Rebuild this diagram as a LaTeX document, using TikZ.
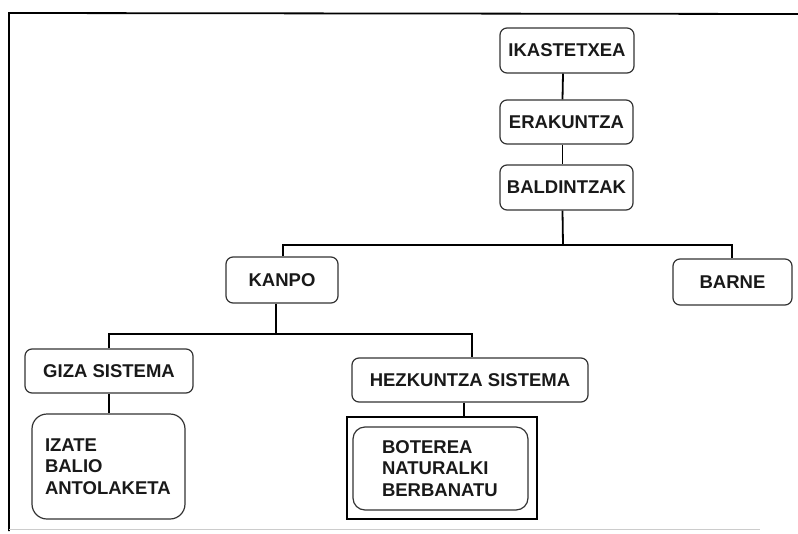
\documentclass[tikz,border=0pt]{standalone}
\usepackage{fontspec}
\setmainfont{Liberation Sans}
\begin{document}
\begin{tikzpicture}[x=1pt,y=-1pt,
  every node/.style={font=\bfseries\fontsize{18.5}{21.5}\selectfont, text=black!90},
  box/.style={draw=black!80, line width=1.2pt, rounded corners=7pt,
    inner sep=0pt, align=center},
  listbox/.style={draw=black!80, line width=1.2pt, inner sep=0pt,
    align=left},
  link/.style={draw=black, line width=1.8pt}]
\useasboundingbox (0,0) rectangle (798,533);
% frame
\draw[line width=1.8pt] (9,531) -- (9,13) -- (798,14);
\draw[line width=0.8pt, black!20] (9,529) -- (760,529);
% tree boxes
\node[box, minimum width=134, minimum height=45] (ika) at (567,50.5) {IKASTETXEA};
\node[box, minimum width=133, minimum height=44] (era) at (566.5,122) {ERAKUNTZA};
\node[box, minimum width=133, minimum height=45] (bal) at (566.5,187.5) {BALDINTZAK};
\node[box, minimum width=112, minimum height=46] (kanpo) at (282,280) {KANPO};
\node[box, minimum width=119, minimum height=46] (barne) at (732.5,282) {BARNE};
\node[box, minimum width=168, minimum height=44] (giza) at (109,371) {GIZA SISTEMA};
\node[box, minimum width=236, minimum height=44] (hez) at (470,380) {HEZKUNTZA SISTEMA};
\node[listbox, rounded corners=15pt, minimum height=105, text width=127,
  inner xsep=13] (izate) at (108.5,466.5) {IZATE\\BALIO\\ANTOLAKETA};
\node[draw=black, line width=2.2pt, minimum width=190, minimum height=102,
  inner sep=0pt] (frame) at (442,468) {};
\node[listbox, rounded corners=12pt, minimum height=83, text width=117,
  inner xsep=29] (bot) at (440.5,468.5) {BOTEREA\\NATURALKI\\BERBANATU};
% junctions
\coordinate (j1) at (563,245);
\coordinate (j2) at (276,334);
% connectors
\draw[link] ([xshift=-4]ika.south) -- ([xshift=-4]era.north);
\draw[link] ([xshift=-4]era.south) -- ([xshift=-4]bal.north);
\draw[link] ([xshift=-4]bal.south) -- (j1);
\draw[link] ([xshift=1]kanpo.north) |- (j1) -| ([xshift=-0.5]barne.north);
\draw[link] ([xshift=-6]kanpo.south) -- (j2);
\draw[link] (giza.north) |- (j2) -| ([xshift=2]hez.north);
\draw[link] (giza.south) -- (giza.south |- izate.north);
\draw[link] ([xshift=-6]hez.south) -- ([xshift=-6]hez.south |- frame.north);
\end{tikzpicture}
\end{document}
